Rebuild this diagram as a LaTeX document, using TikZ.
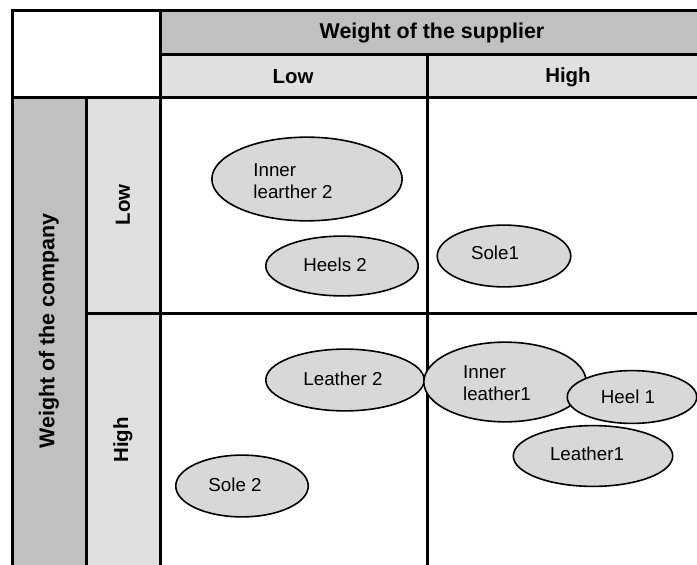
\documentclass[tikz,border=0pt]{standalone}
\usepackage{fontspec}
\setmainfont{Liberation Sans}
\usetikzlibrary{shapes.geometric}
\definecolor{headdark}{HTML}{C0C0C0}
\definecolor{headlight}{HTML}{E0E0E0}
\definecolor{blobfill}{HTML}{D8D8D8}
\begin{document}
\begin{tikzpicture}[x=1bp,y=-1bp,
  grid/.style={line width=3bp,black},
  head/.style={font=\bfseries\fontsize{20.5}{24}\selectfont,inner sep=0pt},
  longhead/.style={head,font=\bfseries\fontsize{21.5}{24}\selectfont},
  blob/.style={ellipse,draw=black,line width=1.6bp,fill=blobfill,inner sep=0pt},
  txt/.style={font=\fontsize{18.8}{22.5}\selectfont,inner sep=0pt,align=left}]
\useasboundingbox (0,0) rectangle (697,565);
% header fills
\fill[headdark]  (160,11) rectangle (697,55);
\fill[headlight] (160,55) rectangle (697,98);
\fill[headdark]  (12,98) rectangle (86,565);
\fill[headlight] (86,98) rectangle (160,565);
% grid lines
\draw[grid] (10.5,11) -- (697,11);
\draw[grid] (160,55) -- (697,55);
\draw[grid] (12,98) -- (697,98);
\draw[grid] (86,313) -- (697,313);
\draw[grid] (12,11) -- (12,565);
\draw[grid] (86,98) -- (86,565);
\draw[grid] (160,11) -- (160,565);
\draw[grid] (427,55) -- (427,565);
% header labels
\node[longhead] (hsup) at (432,33) {Weight of the supplier};
\node[head] (hlow) at (293,77) {Low};
\node[head] (hhigh) at (568,77) {High};
\node[longhead,rotate=90] (hcomp) at (49,331) {Weight of the company};
\node[head,rotate=90] (vlow) at (123,205) {Low};
\node[head,rotate=90] (vhigh) at (123,440) {High};
% components
\node[blob,minimum width=191,minimum height=84] (il2) at (307,179) {};
\node[txt] (il2t) at (293,181) {Inner\\learther 2};
\node[blob,minimum width=153,minimum height=60] (h2) at (342,266) {};
\node[txt] (h2t) at (335,265) {Heels 2};
\node[blob,minimum width=134,minimum height=62] (s1) at (504,256) {};
\node[txt] (s1t) at (495,253) {Sole1};
\node[blob,minimum width=159,minimum height=62] (l2) at (345,380) {};
\node[txt] (l2t) at (343,379) {Leather 2};
\node[blob,minimum width=163,minimum height=80] (il1) at (505,382) {};
\node[txt] (il1t) at (497,383) {Inner\\leather1};
\node[blob,minimum width=130,minimum height=53] (h1) at (632,397) {};
\node[txt] (h1t) at (628,397) {Heel 1};
\node[blob,minimum width=160,minimum height=61] (l1) at (593,456) {};
\node[txt] (l1t) at (587,454) {Leather1};
\node[blob,minimum width=133,minimum height=62] (s2) at (242,486) {};
\node[txt] (s2t) at (235,485) {Sole 2};
\end{tikzpicture}
\end{document}
